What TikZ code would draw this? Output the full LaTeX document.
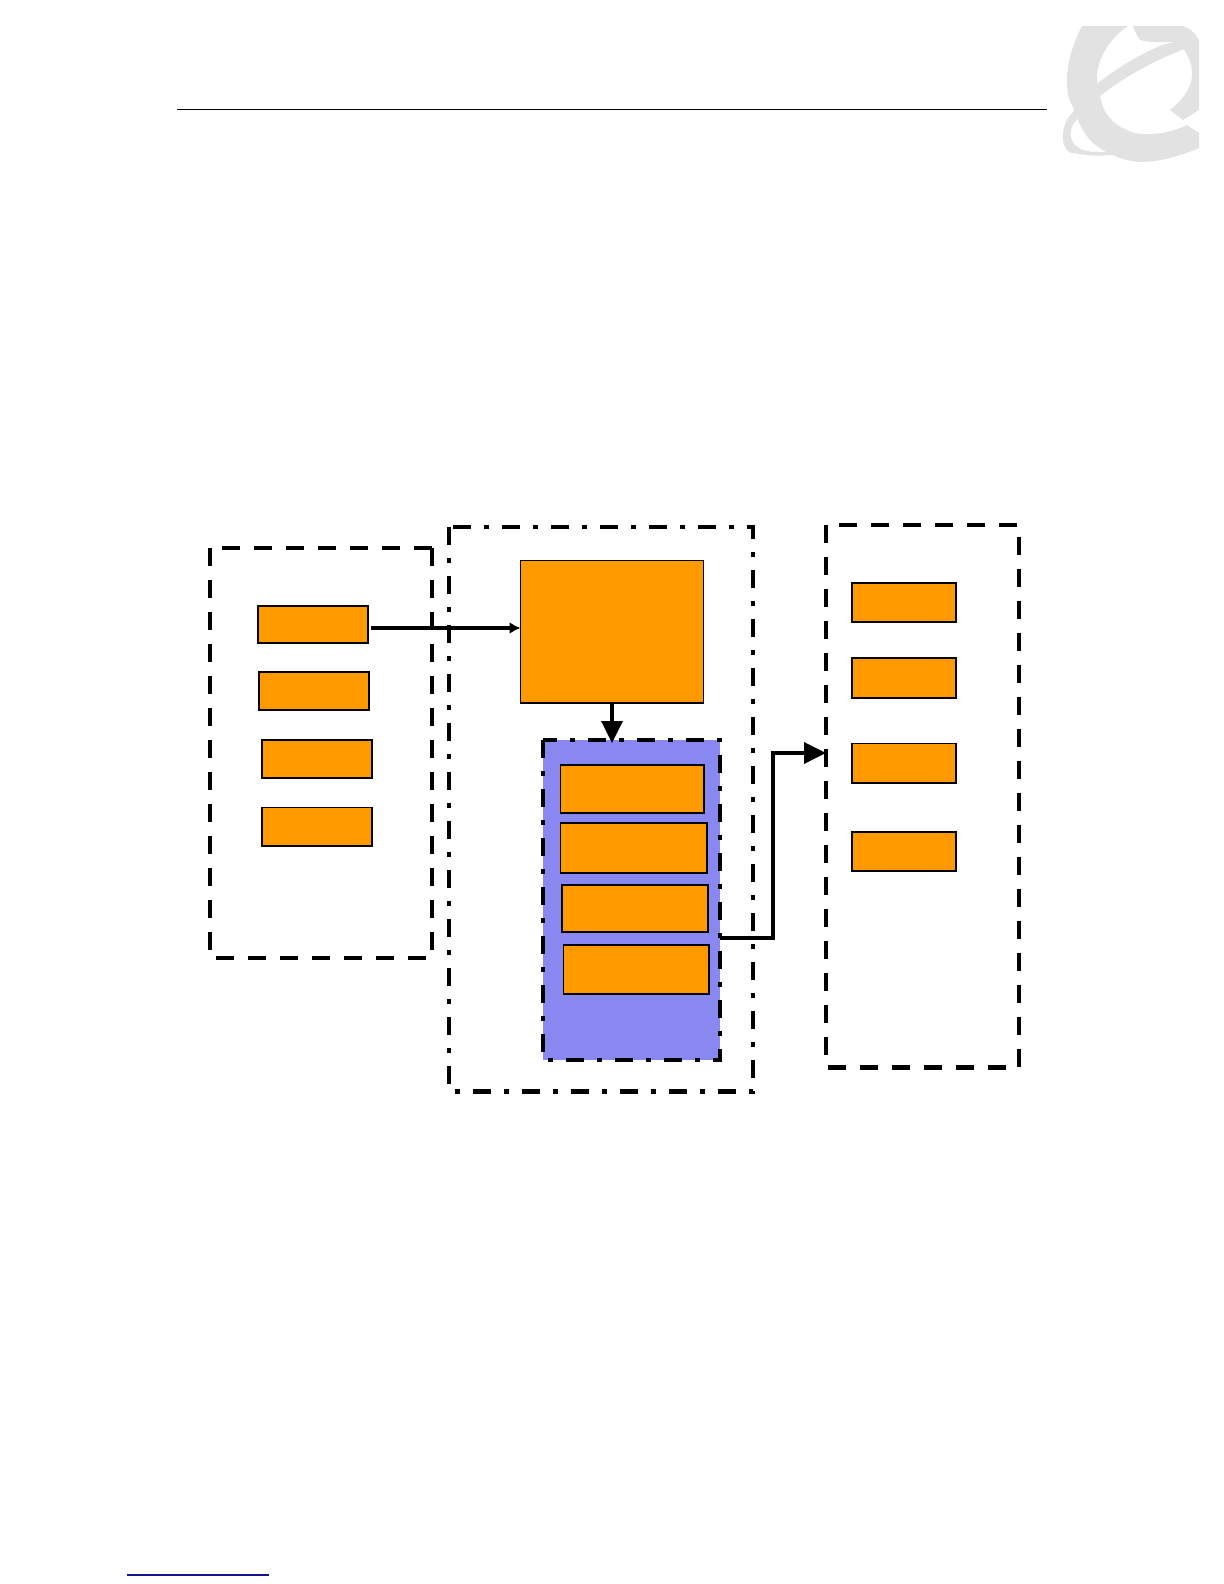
\documentclass[tikz,border=0pt]{standalone}
\usetikzlibrary{arrows.meta,fit}
\definecolor{boxorange}{RGB}{255,153,0}
\definecolor{panelblue}{RGB}{136,136,240}
\definecolor{logogray}{RGB}{226,226,226}
\definecolor{linkblue}{RGB}{20,20,140}
\tikzset{
  px/.style={x=0.5pt,y=-0.5pt},
  orangebox/.style={draw=black,fill=boxorange,line width=0.7pt,inner sep=0pt,outer sep=0pt},
  frame/.style={inner sep=0pt,outer sep=0pt},
  panel/.style={fill=panelblue,inner sep=0pt,outer sep=0pt},
  dashframe/.style={draw=black,line width=2.2pt,dash pattern=on 9pt off 7pt},
  dotframe/.style={draw=black,line width=2.2pt,dash pattern=on 9pt off 6.5pt on 2.5pt off 6.5pt},
  flow/.style={draw=black,line width=1.8pt},
  smalltip/.style={-{Latex[length=5.5pt,width=6pt]}},
  bigtip/.style={-{Triangle[length=11pt,width=10.5pt]}},
}
\begin{document}
\begin{tikzpicture}[px]
\useasboundingbox (0,0) rectangle (1224,1584);
% logo
\fill[logogray]
  (1082,26) .. controls (1072,45) and (1067,65) .. (1067,80)
  .. controls (1067,95) and (1069,100) .. (1073,107)
  .. controls (1077,120) and (1083,132) .. (1090,140)
  .. controls (1105,155) and (1125,161) .. (1140,162)
  .. controls (1160,162) and (1180,156) .. (1199,148)
  -- (1199,133) -- (1187,125)
  .. controls (1170,133) and (1155,135) .. (1140,134)
  .. controls (1122,131) and (1108,120) .. (1103,107)
  .. controls (1102,103) and (1101,100) .. (1100,96)
  .. controls (1120,80) and (1150,62) .. (1187,48)
  -- (1177,42)
  .. controls (1160,42) and (1120,65) .. (1097,84)
  .. controls (1095,60) and (1110,38) .. (1128,26) -- cycle;
\fill[logogray]
  (1133,26) -- (1183,26) .. controls (1190,28) and (1196,34) .. (1199,40)
  -- (1199,110) .. controls (1194,113) and (1188,117) .. (1183,120)
  -- (1170,110) .. controls (1185,98) and (1193,85) .. (1192,72)
  .. controls (1191,60) and (1186,50) .. (1177,42)
  .. controls (1165,42) and (1150,43) .. (1140,40)
  .. controls (1137,36) and (1134,30) .. (1133,26) -- cycle;
\fill[logogray]
  (1075,110) .. controls (1066,118) and (1062,128) .. (1063,142)
  .. controls (1066,150) and (1070,155) .. (1075,153)
  .. controls (1090,157) and (1110,156) .. (1120,153)
  -- (1100,152)
  .. controls (1088,152) and (1080,150) .. (1075,145)
  .. controls (1068,138) and (1070,125) .. (1077,120) -- cycle;
% header rule and footer link
\coordinate (ruleL) at (177,110); \coordinate (ruleR) at (1047,110);
\draw[black,line width=0.5pt] (ruleL) -- (ruleR);
\coordinate (linkL) at (127,1575); \coordinate (linkR) at (269,1575);
\draw[linkblue,line width=0.6pt] (linkL) -- (linkR);
% group frames
\node[frame,fit={(210,548)(432,958)}] (leftgroup) {};
\node[frame,fit={(449,527)(753,1091.5)}] (midgroup) {};
\node[frame,fit={(826,525)(1019,1067.5)}] (rightgroup) {};
\draw[dashframe] (leftgroup.north west) -- (leftgroup.south west) -- (leftgroup.south east) -- (leftgroup.north east);
\draw[dashframe] (leftgroup.north east) -- (leftgroup.north west);
\draw[dotframe] (midgroup.north west) rectangle (midgroup.south east);
\draw[dashframe] (rightgroup.north west) rectangle (rightgroup.south east);
% purple panel
\node[panel,fit={(543,740)(720,1060)}] (engine) {};
\draw[dotframe] (engine.north west) rectangle (engine.south east);
% big box
\node[orangebox,fit={(520.5,560.5)(703.5,703)}] (core) {};
% left boxes
\node[orangebox,fit={(258,606)(368,643)}] (la) {};
\node[orangebox,fit={(259,672)(369,710)}] (lb) {};
\node[orangebox,fit={(262,740)(372,778)}] (lc) {};
\node[orangebox,fit={(262,807.5)(372,846)}] (ld) {};
% inner boxes
\node[orangebox,fit={(560.5,765)(704,813)}] (ea) {};
\node[orangebox,fit={(560.5,823)(707,873)}] (eb) {};
\node[orangebox,fit={(562,885)(708,932)}] (ec) {};
\node[orangebox,fit={(563.5,945)(709,994)}] (ed) {};
% right boxes
\node[orangebox,fit={(852,583)(956,622)}] (ra) {};
\node[orangebox,fit={(852,658)(956,698)}] (rb) {};
\node[orangebox,fit={(852,743.5)(956,783)}] (rc) {};
\node[orangebox,fit={(852,832)(956,871)}] (rd) {};
% connectors
\coordinate (outa) at (371,628);
\draw[flow,smalltip] (outa) -- (outa -| core.west);
\coordinate (enginetop) at ([yshift=-1.5pt]core.south |- engine.north);
\draw[flow,bigtip] (core.south) -- (enginetop);
\coordinate (enginein) at (engine.east |- 0,938);
\coordinate (rightin) at (rightgroup.west |- 0,753);
\draw[flow,bigtip] (enginein) -- (773,938) -- (773,753) -- (rightin);
\end{tikzpicture}
\end{document}
